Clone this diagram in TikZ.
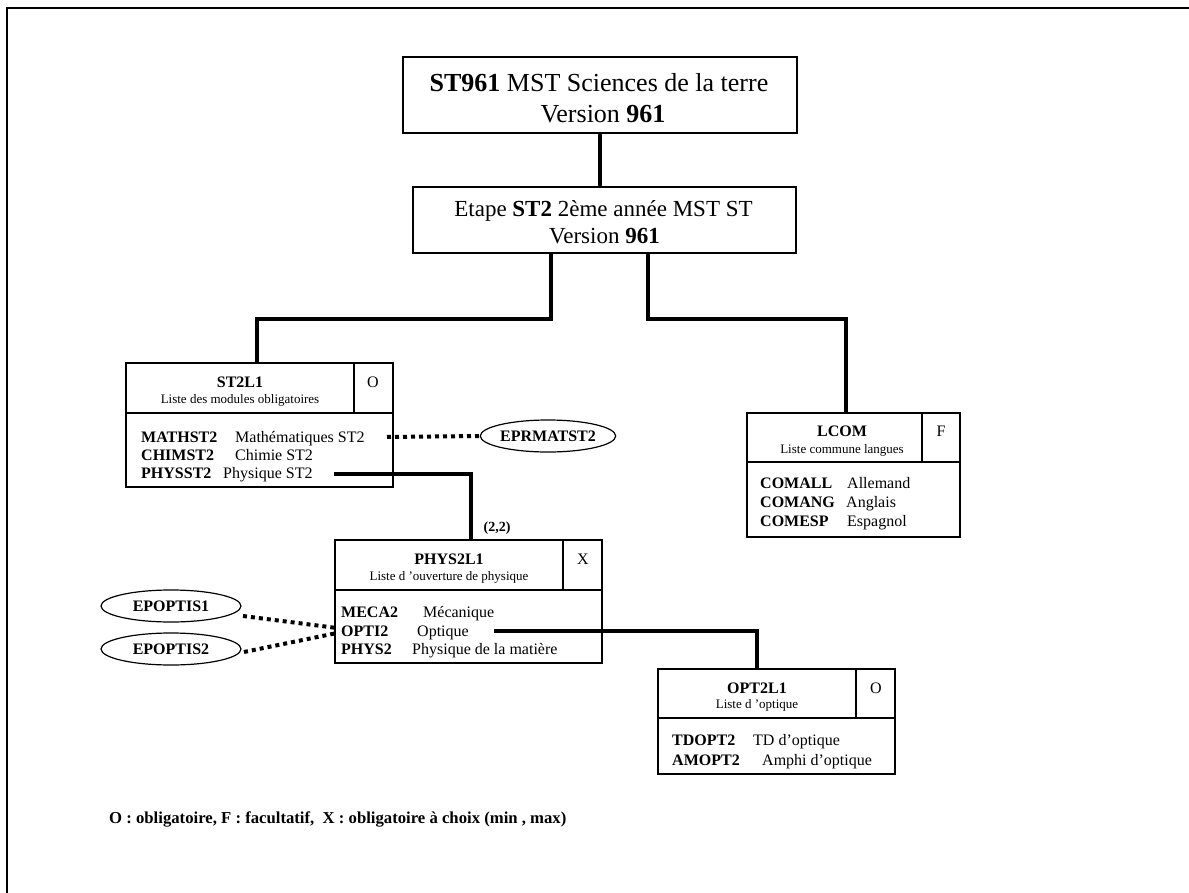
\documentclass[tikz,border=0pt]{standalone}
\usepackage{fontspec}
\setmainfont{Liberation Serif}
\usetikzlibrary{shapes.geometric,calc}
\begin{document}
\begin{tikzpicture}[x=1pt,y=-1pt,
  box/.style={draw, line width=1.5pt, rectangle, inner sep=0pt},
  divline/.style={line width=1.5pt},
  conn/.style={line width=4pt},
  dots/.style={line width=4pt, dash pattern=on 4pt off 4pt},
  ell/.style={draw, ellipse, line width=1.2pt, inner sep=0pt, font=\fontsize{16}{18}\selectfont\bfseries},
  code/.style={anchor=base west, inner sep=0pt, font=\fontsize{16}{18}\selectfont\bfseries},
  desc/.style={anchor=base west, inner sep=0pt, font=\fontsize{16}{18}\selectfont},
  hcode/.style={anchor=base, inner sep=0pt, font=\fontsize{16}{18}\selectfont\bfseries},
  hsub/.style={anchor=base, inner sep=0pt, font=\fontsize{13}{15}\selectfont},
  flag/.style={anchor=base, inner sep=0pt, font=\fontsize{16}{18}\selectfont},
  bigtxt/.style={anchor=base, inner sep=0pt, font=\fontsize{26}{31}\selectfont},
  midtxt/.style={anchor=base, inner sep=0pt, font=\fontsize{23}{27}\selectfont}
]
\useasboundingbox (0,0) rectangle (1189,893);
\fill[white] (0,0) rectangle (1189,893);
% frame
\draw[line width=2pt] (7,893) -- (7,8) -- (1189,8);

% top box
\node[box, minimum width=394pt, minimum height=76pt] (top) at (600,95) {};
\node[bigtxt] (top1) at (599,92) {\textbf{ST961} MST Sciences de la terre};
\node[bigtxt] (top2) at (603,123) {Version \textbf{961}};

% etape box
\node[box, minimum width=383pt, minimum height=66pt] (etape) at (604.5,220) {};
\node[midtxt] (et1) at (603.5,217) {Etape \textbf{ST2} 2ème année MST ST};
\node[midtxt] (et2) at (604.5,244) {Version \textbf{961}};

% ST2L1
\node[box, minimum width=267pt, minimum height=124pt] (st2l1) at (259.5,425) {};
\draw[divline] (126,413) -- (393,413);
\draw[divline] (354,363) -- (354,413);
\node[hcode] (st2l1h) at (240,387) {ST2L1};
\node[hsub] (st2l1s) at (240,403) {Liste des modules obligatoires};
\node[flag] (st2l1f) at (373,387) {O};
\node[code] (r1c) at (141,442) {MATHST2};
\node[desc] (r1d) at (235,442) {Mathématiques ST2};
\node[code] (r2c) at (141,460) {CHIMST2};
\node[desc] (r2d) at (235,460) {Chimie ST2};
\node[code] (r3c) at (141,478) {PHYSST2};
\node[desc] (r3d) at (223,478) {Physique ST2};

% LCOM
\node[box, minimum width=213pt, minimum height=124pt] (lcom) at (853.5,475) {};
\draw[divline] (747,462) -- (960,462);
\draw[divline] (922,413) -- (922,462);
\node[hcode] (lcomh) at (842,436) {LCOM};
\node[hsub] (lcoms) at (842,453) {Liste commune langues};
\node[flag] (lcomf) at (941,436) {F};
\node[code] (l1c) at (760,488) {COMALL};
\node[desc] (l1d) at (847,488) {Allemand};
\node[code] (l2c) at (760,507) {COMANG};
\node[desc] (l2d) at (846,507) {Anglais};
\node[code] (l3c) at (760,526) {COMESP};
\node[desc] (l3d) at (847,526) {Espagnol};

% PHYS2L1
\node[box, minimum width=267pt, minimum height=123pt] (phys) at (468.5,601.5) {};
\draw[divline] (335,590) -- (602,590);
\draw[divline] (563,540) -- (563,590);
\node[hcode] (physh) at (449,564) {PHYS2L1};
\node[hsub] (physs) at (449,580) {Liste d ’ouverture de physique};
\node[flag] (physf) at (583,564) {X};
\node[code] (p1c) at (341,617) {MECA2};
\node[desc] (p1d) at (423,617) {Mécanique};
\node[code] (p2c) at (341,636) {OPTI2};
\node[desc] (p2d) at (417,636) {Optique};
\node[code] (p3c) at (341,654) {PHYS2};
\node[desc] (p3d) at (412,654) {Physique de la matière};

% OPT2L1
\node[box, minimum width=237pt, minimum height=105pt] (opt) at (776.5,721.5) {};
\draw[divline] (658,718) -- (895,718);
\draw[divline] (856,669) -- (856,718);
\node[hcode] (opth) at (757,693) {OPT2L1};
\node[hsub] (opts) at (757,708) {Liste d ’optique};
\node[flag] (optf) at (876,693) {O};
\node[code] (o1c) at (672,745) {TDOPT2};
\node[desc] (o1d) at (753,745) {TD d’optique};
\node[code] (o2c) at (672,765) {AMOPT2};
\node[desc] (o2d) at (762,765) {Amphi d’optique};

% ellipses
\node[ell, minimum width=123pt, minimum height=32pt] (epr) at (548,436) {EPRMATST2};
\node[ell, minimum width=140pt, minimum height=32pt] (epo1) at (171,606) {EPOPTIS1};
\node[ell, minimum width=140pt, minimum height=32pt] (epo2) at (171,649) {EPOPTIS2};

% label
\node[inner sep=0pt, font=\fontsize{14}{16}\selectfont\bfseries] (card) at (497,528) {(2,2)};

% connectors
\draw[conn] (top.south) -- (top.south |- etape.north);
\draw[conn] ([xshift=-54pt]etape.south) -- ++(0,65) -| ([xshift=-3pt]st2l1.north);
\draw[conn] ([xshift=43.5pt]etape.south) -- ++(0,65) -| ([xshift=-8pt]lcom.north);
\coordinate (physEnd) at (334,474);
\draw[conn] (physEnd) -| ([xshift=2.5pt]phys.north);
\coordinate (optiEnd) at (494,631);
\draw[conn] (optiEnd) -| ([xshift=-19.5pt]opt.north);
\coordinate (mathEnd) at (387,437);
\draw[dots] (mathEnd) -- (epr.west);
\coordinate (epo1s) at (243,616);
\coordinate (epo2s) at (244,652);
\coordinate (optiA) at (337,628);
\coordinate (optiB) at (337,633);
\draw[dots] (epo1s) -- (optiA);
\draw[dots] (epo2s) -- (optiB);

% legend
\node[anchor=base west, inner sep=0pt, font=\fontsize{16.7}{19}\selectfont\bfseries] (legend) at (109,823) {O : obligatoire, F : facultatif,~ X : obligatoire à choix (min , max)};
\end{tikzpicture}
\end{document}
